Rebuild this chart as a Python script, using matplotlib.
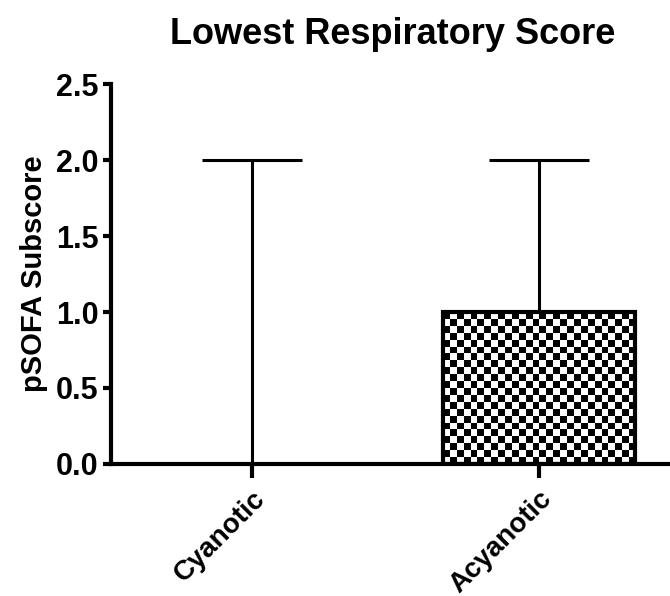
import numpy as np
import matplotlib
matplotlib.use('Agg')
from matplotlib import pyplot as plt

plt.rcParams['font.family'] = ['Liberation Sans', 'DejaVu Sans']

groups = ['Cyanotic', 'Acyanotic']
medians = [0.0, 1.0]
upper = [2.0, 2.0]
y_ticks = [0.0, 0.5, 1.0, 1.5, 2.0, 2.5]


def checker_fill(ax, bar, cell_px=6.8):
    # fill a bar with a black/white checkerboard clipped to its outline
    x0, y0 = bar.get_x(), bar.get_y()
    w, h = bar.get_width(), bar.get_height()
    if h <= 0:
        return
    p0 = ax.transData.transform((x0, y0))
    p1 = ax.transData.transform((x0 + w, y0 + h))
    nx = max(1, int(round((p1[0] - p0[0]) / cell_px)))
    ny = max(1, int(round((p1[1] - p0[1]) / cell_px)))
    board = (np.indices((ny, nx)).sum(axis=0) % 2).astype(float)
    im = ax.imshow(board, cmap='gray', extent=(x0, x0 + w, y0, y0 + h),
                   aspect='auto', interpolation='nearest', zorder=2)
    im.set_clip_path(bar)


fig = plt.figure(figsize=(6.7, 5.96), dpi=100)
ax = fig.add_axes([0.166, 0.2215, 0.84, 0.6375])

x = np.arange(len(groups))
bars = ax.bar(x, medians, width=0.67, color='white', edgecolor='black',
              linewidth=3, zorder=3)
bars[0].set_visible(False)
ax.set_xlim(-0.49, 1.47)
ax.set_ylim(0, 2.5)

checker_fill(ax, bars[1])
bars[1].set_facecolor('none')

err = np.array(upper) - np.array(medians)
ax.errorbar(x, medians, yerr=[np.zeros(len(x)), err], fmt='none',
            ecolor='black', elinewidth=2.2, capsize=36, capthick=2.2,
            zorder=1)

for side in ['top', 'right']:
    ax.spines[side].set_visible(False)
for side in ['left', 'bottom']:
    ax.spines[side].set_linewidth(3)

ax.set_yticks(y_ticks)
ax.set_yticklabels([f'{v:.1f}' for v in y_ticks], fontsize=22,
                   fontweight='bold')
ax.tick_params(axis='y', length=6, width=3, pad=3)
ax.tick_params(axis='x', length=10, width=3, pad=6)
ax.set_xticks(x)
ax.set_xticklabels(groups, fontsize=20, fontweight='bold', rotation=45,
                   ha='right', rotation_mode='anchor')

ax.set_ylabel('pSOFA Subscore', fontsize=21, fontweight='bold', labelpad=6)
ax.set_title('Lowest Respiratory Score', fontsize=26, fontweight='bold',
             pad=29)

plt.savefig('out.png', dpi=100)
plt.close()
